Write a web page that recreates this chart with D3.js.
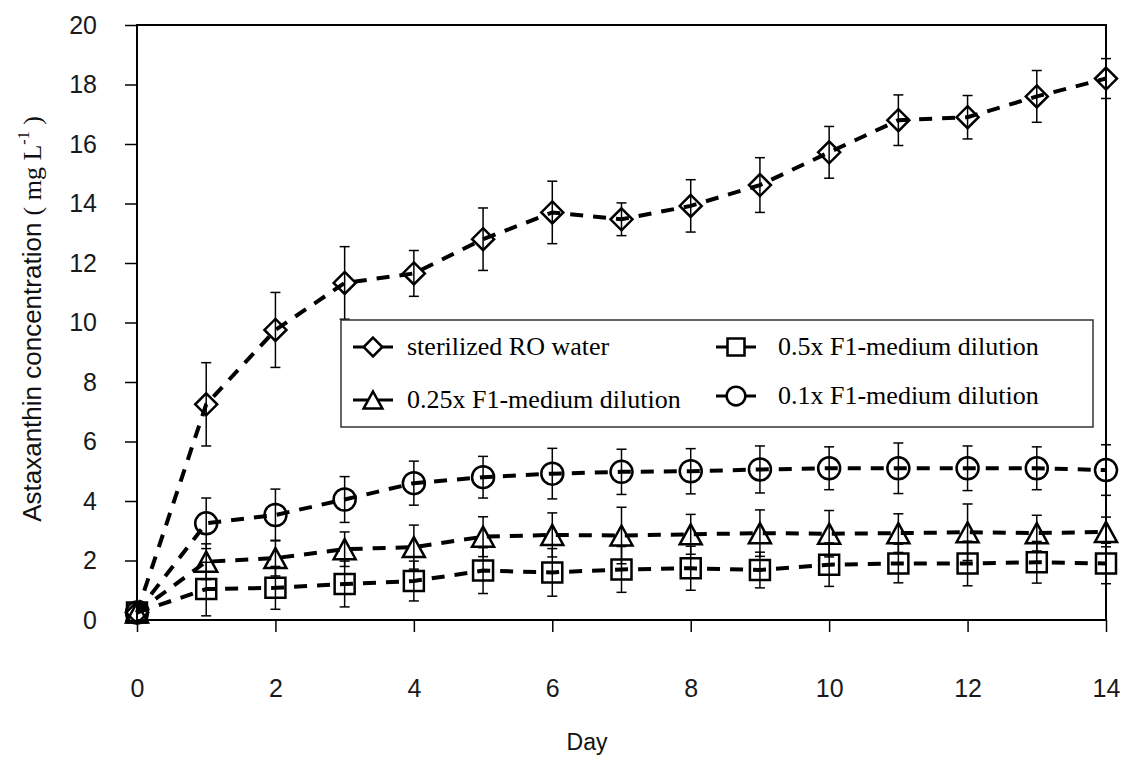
<!DOCTYPE html>
<html>
<head>
<meta charset="utf-8">
<script src="https://cdn.jsdelivr.net/npm/d3@7"></script>
<style>
  body { margin: 0; background: #fff; }
  svg { display: block; }
</style>
</head>
<body>
<svg id="chart"></svg>
<script>
const width = 1131;
const height = 758;

// days of culture
const days = [0, 1, 2, 3, 4, 5, 6, 7, 8, 9, 10, 11, 12, 13, 14];

// mean astaxanthin (mg/L)
const roWater = [0.25, 7.25, 9.75, 11.33, 11.65, 12.8, 13.7, 13.47, 13.92, 14.62, 15.72, 16.8, 16.9, 17.6, 18.2];
const f1Half = [0.25, 1.04, 1.08, 1.21, 1.31, 1.66, 1.6, 1.7, 1.74, 1.68, 1.86, 1.9, 1.9, 1.94, 1.9];
const f1Quarter = [0.25, 1.96, 2.08, 2.38, 2.45, 2.8, 2.86, 2.84, 2.88, 2.92, 2.9, 2.92, 2.95, 2.92, 2.96];
const f1Tenth = [0.25, 3.25, 3.53, 4.05, 4.6, 4.8, 4.92, 4.98, 5.0, 5.06, 5.1, 5.1, 5.1, 5.1, 5.04];

// error bars (+/- sd)
const roWaterSd = [0, 1.4, 1.26, 1.22, 0.77, 1.05, 1.05, 0.55, 0.88, 0.92, 0.87, 0.85, 0.73, 0.87, 0.67];
const f1HalfSd = [0, 0.9, 0.72, 0.77, 0.67, 0.77, 0.8, 0.77, 0.74, 0.6, 0.73, 0.65, 0.75, 0.7, 0.68];
const f1QuarterSd = [0, 0.6, 0.6, 0.58, 0.74, 0.67, 0.74, 0.95, 0.67, 0.78, 0.78, 0.65, 0.95, 0.6, 0.5];
const f1TenthSd = [0, 0.85, 0.87, 0.77, 0.74, 0.7, 0.85, 0.76, 0.76, 0.79, 0.72, 0.85, 0.75, 0.72, 0.85];

const xTicks = [0, 2, 4, 6, 8, 10, 12, 14];
const yTicks = [0, 2, 4, 6, 8, 10, 12, 14, 16, 18, 20];

const series = [
  { name: 'sterilized RO water', shape: 'diamond', values: roWater, sd: roWaterSd },
  { name: '0.5x F1-medium dilution', shape: 'square', values: f1Half, sd: f1HalfSd },
  { name: '0.25x F1-medium dilution', shape: 'triangle', values: f1Quarter, sd: f1QuarterSd },
  { name: '0.1x F1-medium dilution', shape: 'circle', values: f1Tenth, sd: f1TenthSd }
];

const plot = { left: 137, right: 1106, top: 25, bottom: 620 };

const x = d3.scaleLinear().domain([0, 14]).range([plot.left, plot.right]);
const y = d3.scaleLinear().domain([0, 20]).range([plot.bottom, plot.top]);

const svg = d3.select('#chart')
  .attr('width', width)
  .attr('height', height);

const sans = 'Arial, "Liberation Sans", sans-serif';
const serif = '"Times New Roman", "Liberation Serif", serif';

// marker paths, centred at 0,0
const markerPath = (shape) => {
  switch (shape) {
    case 'diamond': return 'M0,-11L11,0L0,11L-11,0Z';
    case 'square': return 'M-10,-10H10V10H-10Z';
    case 'triangle': return 'M0,-10L11,10H-11Z';
    default: return d3.arc()({ innerRadius: 0, outerRadius: 11, startAngle: 0, endAngle: 2 * Math.PI });
  }
};

/* axes */
const xAxis = svg.append('g')
  .attr('transform', `translate(0,${plot.bottom})`)
  .call(d3.axisBottom(x).tickValues(xTicks).tickSize(12).tickPadding(47));

const yAxis = svg.append('g')
  .attr('transform', `translate(${plot.left},0)`)
  .call(d3.axisLeft(y).tickValues(yTicks).tickSize(12).tickPadding(28));

[xAxis, yAxis].forEach(ax => {
  ax.select('.domain').remove();
  ax.selectAll('line').attr('stroke', '#000').attr('stroke-width', 1.5);
  ax.selectAll('text')
    .attr('fill', '#1a1a1a')
    .style('font-family', sans)
    .style('font-size', '25px');
});

// frame
svg.append('rect')
  .attr('x', plot.left)
  .attr('y', plot.top)
  .attr('width', plot.right - plot.left)
  .attr('height', plot.bottom - plot.top)
  .attr('fill', 'none')
  .attr('stroke', '#000')
  .attr('stroke-width', 2);

// axis titles
svg.append('text')
  .attr('x', 587)
  .attr('y', 750)
  .attr('text-anchor', 'middle')
  .style('font-family', sans)
  .style('font-size', '23px')
  .attr('fill', '#111')
  .text('Day');

const yTitle = svg.append('text')
  .attr('transform', 'translate(41,319) rotate(-90)')
  .attr('text-anchor', 'middle')
  .attr('fill', '#111');
yTitle.append('tspan')
  .style('font-family', sans)
  .style('font-size', '26px')
  .text('Astaxanthin concentration ');
yTitle.append('tspan')
  .style('font-family', serif)
  .style('font-size', '26px')
  .text('( mg L');
yTitle.append('tspan')
  .style('font-family', serif)
  .style('font-size', '16px')
  .attr('dy', -12)
  .text('-1');
yTitle.append('tspan')
  .style('font-family', serif)
  .style('font-size', '26px')
  .attr('dy', 12)
  .text(' )');

/* data marks */
const line = d3.line()
  .x((d, i) => x(days[i]))
  .y(d => y(d));

const groups = svg.append('g')
  .selectAll('g.series')
  .data(series)
  .enter()
  .append('g')
  .classed('series', true);

// error bars
groups.each(function (s) {
  const pts = s.values.map((v, i) => ({ day: days[i], v: v, sd: s.sd[i] }))
    .filter(p => p.sd > 0);
  const g = d3.select(this).append('g')
    .attr('stroke', '#000')
    .attr('stroke-width', 1.5);
  g.selectAll('line.bar')
    .data(pts)
    .enter()
    .append('line')
    .attr('x1', d => x(d.day))
    .attr('x2', d => x(d.day))
    .attr('y1', d => y(d.v - d.sd))
    .attr('y2', d => y(d.v + d.sd));
  ['lo', 'hi'].forEach(k => {
    g.selectAll('line.cap-' + k)
      .data(pts)
      .enter()
      .append('line')
      .attr('x1', d => x(d.day) - 5)
      .attr('x2', d => x(d.day) + 5)
      .attr('y1', d => y(k === 'lo' ? d.v - d.sd : d.v + d.sd))
      .attr('y2', d => y(k === 'lo' ? d.v - d.sd : d.v + d.sd));
  });
});

// dashed lines
groups.append('path')
  .attr('d', d => line(d.values))
  .attr('fill', 'none')
  .attr('stroke', '#000')
  .attr('stroke-width', 4)
  .attr('stroke-dasharray', '13,10');

// markers
groups.each(function (s) {
  d3.select(this).selectAll('path.marker')
    .data(s.values)
    .enter()
    .append('path')
    .classed('marker', true)
    .attr('d', markerPath(s.shape))
    .attr('transform', (d, i) => `translate(${x(days[i])},${y(d)})`)
    .attr('fill', 'none')
    .attr('stroke', '#000')
    .attr('stroke-width', 2.5);
});

/* legend */
const legend = svg.append('g');
legend.append('rect')
  .attr('x', 341)
  .attr('y', 320)
  .attr('width', 752)
  .attr('height', 107)
  .attr('fill', '#fff')
  .attr('stroke', '#333')
  .attr('stroke-width', 1.5);

const legendPos = [
  { cx: 373, cy: 347 },
  { cx: 736, cy: 347 },
  { cx: 373, cy: 400 },
  { cx: 736, cy: 396 }
];

const items = legend.selectAll('g.item')
  .data(series)
  .enter()
  .append('g')
  .classed('item', true)
  .attr('transform', (d, i) => `translate(${legendPos[i].cx},${legendPos[i].cy})`);

items.append('line')
  .attr('x1', -20)
  .attr('x2', 20)
  .attr('stroke', '#000')
  .attr('stroke-width', 3);

items.append('path')
  .attr('d', d => markerPath(d.shape))
  .attr('transform', 'scale(0.85)')
  .attr('fill', '#fff')
  .attr('stroke', '#000')
  .attr('stroke-width', 3);

items.append('text')
  .attr('x', (d, i) => i % 2 === 0 ? 34 : 42)
  .attr('y', 8)
  .style('font-family', serif)
  .style('font-size', '26px')
  .attr('fill', '#000')
  .text(d => d.name);
</script>
</body>
</html>
